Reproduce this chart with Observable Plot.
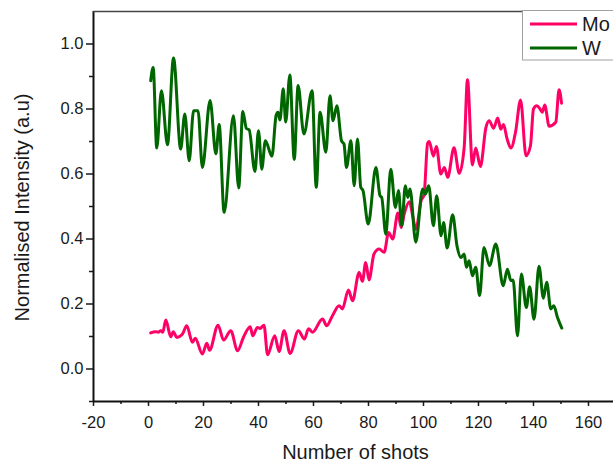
<!DOCTYPE html>
<html><head><meta charset="utf-8">
<script src="https://cdn.jsdelivr.net/npm/d3@7"></script>
<script src="https://cdn.jsdelivr.net/npm/@observablehq/plot@0.6"></script>
<style>
html,body{margin:0;padding:0;background:#fff;overflow:hidden;}
#chart{width:613px;height:464px;}
</style></head><body><div id="chart"></div>
<script>
const seriesNames = ["Mo", "W"];
const seriesColors = ["#ff0066", "#006600"];

const moShots = [0.8,2.5,3.5,4.5,5.2,6.3,8.1,9.0,10.3,12.4,13.9,16.0,17.0,19.6,21.2,22.2,25.3,27.3,29.9,32.4,34.5,37.0,37.9,39.6,40.6,42.0,43.3,45.9,47.5,49.3,51.5,54.5,56.7,58.2,59.6,63.3,64.8,66.9,69.3,70.5,72.7,74.2,76.6,77.8,79.0,80.2,82.0,83.9,85.7,87.3,88.8,90.7,91.9,93.0,94.9,96.1,97.2,99.2,100.2,101.5,102.1,103.6,104.7,106.3,107.6,108.8,111.1,113.0,114.8,116.0,117.8,119.0,120.7,122.7,123.9,125.5,127.0,128.1,129.1,130.4,131.8,133.5,135.3,137.3,138.9,140.0,141.2,142.4,143.2,144.1,145.7,148.1,149.3,150.2];
const moValues = [0.111,0.115,0.113,0.118,0.113,0.151,0.099,0.115,0.097,0.108,0.133,0.082,0.095,0.046,0.079,0.058,0.135,0.089,0.118,0.056,0.097,0.130,0.102,0.128,0.125,0.135,0.044,0.102,0.054,0.118,0.048,0.118,0.092,0.124,0.113,0.154,0.133,0.164,0.195,0.185,0.243,0.210,0.297,0.270,0.328,0.274,0.354,0.369,0.359,0.420,0.400,0.480,0.435,0.477,0.515,0.470,0.430,0.520,0.535,0.695,0.700,0.655,0.685,0.600,0.620,0.590,0.681,0.602,0.682,0.890,0.628,0.680,0.623,0.743,0.764,0.741,0.772,0.738,0.752,0.708,0.680,0.730,0.828,0.656,0.687,0.800,0.810,0.800,0.790,0.812,0.747,0.759,0.859,0.818];

const wShots = [0.8,1.7,3.0,4.7,6.9,9.1,11.7,13.2,14.8,16.4,18.0,19.6,22.4,24.5,25.7,27.5,30.9,32.8,34.3,35.6,36.6,38.7,40.0,41.2,42.5,44.9,46.4,47.1,47.8,49.0,49.9,51.4,53.0,54.4,56.5,59.5,61.0,62.4,64.5,66.0,67.1,68.5,70.2,71.1,72.0,73.6,74.8,76.0,77.2,78.0,79.9,82.7,84.2,84.8,86.3,88.1,89.8,90.9,92.1,93.4,94.3,95.1,97.2,99.7,100.7,101.9,103.6,104.8,106.4,107.3,108.6,110.6,112.2,113.6,114.8,115.6,116.6,117.8,119.0,120.4,122.0,124.0,126.3,129.0,130.5,131.8,132.6,134.2,135.6,137.4,138.6,140.2,142.0,143.6,144.8,146.3,147.4,148.7,150.3];
const wValues = [0.887,0.928,0.680,0.856,0.690,0.957,0.677,0.785,0.641,0.795,0.795,0.620,0.826,0.662,0.752,0.482,0.779,0.557,0.792,0.740,0.736,0.608,0.733,0.615,0.702,0.655,0.780,0.790,0.766,0.862,0.760,0.905,0.645,0.872,0.723,0.856,0.559,0.790,0.667,0.841,0.764,0.810,0.702,0.692,0.620,0.702,0.564,0.708,0.559,0.549,0.446,0.620,0.533,0.528,0.415,0.615,0.497,0.549,0.441,0.564,0.528,0.554,0.390,0.554,0.538,0.564,0.441,0.533,0.410,0.451,0.372,0.475,0.378,0.343,0.354,0.313,0.333,0.287,0.313,0.226,0.374,0.318,0.385,0.256,0.307,0.272,0.274,0.102,0.292,0.189,0.253,0.153,0.316,0.218,0.267,0.185,0.195,0.159,0.126];

const xMajorTicks = [-20,0,20,40,60,80,100,120,140,160];
const xMinorTicks = [-10,10,30,50,70,90,110,130,150];
const yMajorTicks = [0,0.2,0.4,0.6,0.8,1.0];
const yMinorTicks = [-0.1,0.1,0.3,0.5,0.7,0.9];
const xTitle = "Number of shots";
const yTitle = "Normalised Intensity (a.u)";

const rows = [];
moShots.forEach((s, i) => rows.push({series: seriesNames[0], shot: s, value: moValues[i]}));
wShots.forEach((s, i) => rows.push({series: seriesNames[1], shot: s, value: wValues[i]}));

const font = "'Liberation Sans', Arial, Helvetica, sans-serif";
const plot = Plot.plot({
  width: 613, height: 464,
  marginLeft: 93, marginRight: 0, marginTop: 11, marginBottom: 63,
  style: {fontFamily: font, background: "white", color: "#1a1a1a"},
  x: {domain: [-20, 169.1]},
  y: {domain: [-0.1, 1.1]},
  color: {domain: seriesNames, range: seriesColors},
  marks: [
    Plot.axisX({ticks: xMinorTicks, tickSize: 3, tickFormat: () => "", label: null, strokeWidth: 1.5}),
    Plot.axisX({ticks: xMajorTicks, tickSize: 5, tickPadding: 10, tickFormat: d => String(d), fontSize: 16.5, label: null, strokeWidth: 1.5}),
    Plot.axisY({ticks: yMinorTicks, tickSize: 4, tickFormat: () => "", label: null, strokeWidth: 1.5}),
    Plot.axisY({ticks: yMajorTicks, tickSize: 7, tickPadding: 3, tickFormat: d3.format(".1f"), fontSize: 16.5, label: null, strokeWidth: 1.5}),
    Plot.line(rows, {x: "shot", y: "value", stroke: "series", z: "series", strokeWidth: 3, curve: "monotone-x"}),
    Plot.ruleX([-20], {stroke: "#111", strokeWidth: 2}),
    Plot.ruleY([-0.1], {stroke: "#111", strokeWidth: 2}),
    Plot.ruleY([1.1], {stroke: "#444", strokeWidth: 1.5}),
    Plot.text([xTitle], {frameAnchor: "bottom", textAnchor: "middle", dy: 57, dx: 2, fontSize: 20, fill: "#1a1a1a"}),
    Plot.text([yTitle], {frameAnchor: "left", textAnchor: "middle", rotate: -90, dx: -71, dy: 1, fontSize: 20, fill: "#1a1a1a"})
  ]
});

const svg = d3.select(plot);
const lg = svg.append("g").attr("font-family", font).attr("text-anchor", "start");
lg.append("rect").attr("x", 522.5).attr("y", 10.5).attr("width", 95).attr("height", 49.5)
  .attr("fill", "white").attr("stroke", "#a0a0a0").attr("stroke-width", 1);
seriesNames.forEach((name, i) => {
  const y = 24 + i * 24;
  lg.append("line").attr("x1", 530).attr("x2", 577).attr("y1", y).attr("y2", y)
    .attr("stroke", seriesColors[i]).attr("stroke-width", 3);
  lg.append("text").attr("x", 582).attr("y", y + 7).attr("font-size", 20).attr("fill", "#1a1a1a")
    .attr("text-anchor", "start").text(name);
});

document.getElementById("chart").appendChild(plot);
</script>
</body></html>
